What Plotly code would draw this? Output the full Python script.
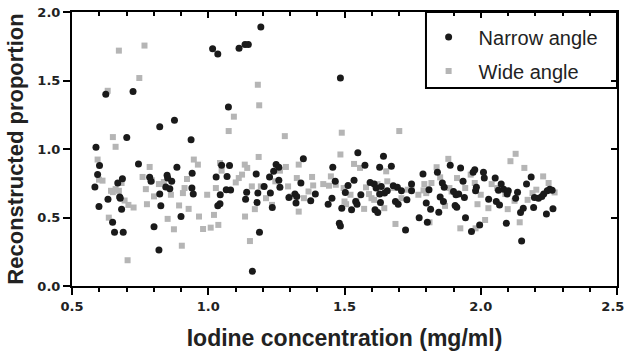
import plotly.graph_objects as go

# Narrow angle (black circles)
narrow_x = [0.584, 0.588, 0.594, 0.601, 0.599, 0.624, 0.632, 0.649, 0.656, 0.668, 0.675, 0.677, 0.682, 0.685, 0.688,
            0.701, 0.724, 0.744, 0.785, 0.790, 0.801, 0.819, 0.822, 0.822, 0.826, 0.844, 0.849, 0.851, 0.859, 0.866,
            0.876, 0.885, 0.900, 0.937, 0.941, 0.940, 0.945, 1.016, 1.035, 1.029, 1.035, 1.043, 1.044, 1.049, 1.069,
            1.074, 1.078, 1.066, 1.082, 1.113, 1.135, 1.147, 1.137, 1.141, 1.162, 1.176, 1.179, 1.182, 1.188, 1.193,
            1.205, 1.228, 1.235, 1.225, 1.240, 1.249, 1.259, 1.259, 1.263, 1.296, 1.318, 1.322, 1.325, 1.340, 1.349,
            1.376, 1.393, 1.440, 1.454, 1.457, 1.466, 1.485, 1.481, 1.485, 1.490, 1.503, 1.513, 1.526, 1.535, 1.541,
            1.546, 1.549, 1.560, 1.575, 1.594, 1.609, 1.616, 1.612, 1.622, 1.629, 1.629, 1.632, 1.635, 1.643, 1.647,
            1.657, 1.672, 1.679, 1.687, 1.694, 1.697, 1.709, 1.724, 1.729, 1.746, 1.746, 1.774, 1.788, 1.800, 1.804,
            1.810, 1.816, 1.841, 1.846, 1.851, 1.859, 1.863, 1.866, 1.888, 1.900, 1.906, 1.909, 1.912, 1.919, 1.926,
            1.935, 1.940, 1.944, 1.966, 1.972, 1.978, 1.981, 1.984, 1.996, 2.010, 2.013, 2.029, 2.053, 2.057, 2.065,
            2.069, 2.075, 2.084, 2.094, 2.097, 2.101, 2.128, 2.135, 2.146, 2.150, 2.156, 2.168, 2.185, 2.194, 2.197,
            2.212, 2.224, 2.231, 2.241, 2.244, 2.253, 2.262, 2.265]
narrow_y = [0.722, 1.013, 0.813, 0.879, 0.580, 1.400, 0.634, 0.465, 0.392, 0.752, 0.649, 0.641, 0.561, 0.783, 0.392,
            1.084, 1.420, 0.891, 0.793, 0.764, 0.433, 0.262, 1.163, 0.671, 0.585, 0.722, 0.808, 0.788, 0.710, 0.764,
            1.209, 0.867, 0.507, 1.067, 0.823, 0.715, 0.671, 1.731, 1.694, 0.796, 0.585, 0.600, 0.666, 0.881, 0.800,
            1.307, 0.879, 0.703, 0.700, 1.736, 1.763, 1.763, 0.634, 0.685, 0.108, 0.818, 0.610, 0.678, 0.392, 1.890,
            0.727, 0.678, 0.573, 0.796, 0.837, 0.886, 0.867, 0.771, 0.720, 0.646, 0.671, 0.605, 0.654, 0.752, 0.928,
            0.622, 0.671, 0.597, 0.641, 0.867, 0.764, 1.518, 0.458, 0.438, 0.568, 0.683, 0.734, 0.556, 0.771, 0.617,
            0.597, 0.972, 0.666, 0.881, 0.756, 0.744, 0.715, 0.556, 0.536, 0.867, 0.671, 0.610, 0.727, 0.947, 0.678,
            0.695, 0.874, 0.732, 0.617, 0.720, 0.597, 0.695, 0.409, 0.629, 0.744, 0.695, 0.499, 0.818, 0.605, 0.465,
            0.703, 0.561, 0.830, 0.539, 0.649, 0.752, 0.617, 0.720, 0.881, 0.690, 0.588, 0.666, 0.575, 0.671, 0.862,
            0.764, 0.646, 0.499, 0.397, 0.830, 0.849, 0.695, 0.720, 0.446, 0.830, 0.788, 0.634, 0.788, 0.617, 0.698,
            0.592, 0.744, 0.707, 0.458, 0.671, 0.695, 0.641, 0.685, 0.536, 0.328, 0.568, 0.744, 0.796, 0.573, 0.646,
            0.641, 0.654, 0.671, 0.526, 0.695, 0.707, 0.698, 0.563]

# Wide angle (grey squares)
wide_x = [0.594, 0.599, 0.612, 0.631, 0.635, 0.643, 0.650, 0.660, 0.650, 0.660, 0.672, 0.672, 0.682, 0.693, 0.704,
          0.707, 0.726, 0.747, 0.759, 0.766, 0.771, 0.775, 0.785, 0.793, 0.801, 0.819, 0.837, 0.851, 0.863, 0.874,
          0.893, 0.903, 0.907, 0.913, 0.922, 0.928, 0.947, 0.962, 0.966, 0.981, 0.996, 1.009, 1.021, 1.028, 1.037,
          1.043, 1.049, 1.075, 1.094, 1.101, 1.112, 1.124, 1.134, 1.135, 1.143, 1.153, 1.160, 1.171, 1.182, 1.187,
          1.185, 1.193, 1.212, 1.234, 1.246, 1.263, 1.281, 1.285, 1.293, 1.303, 1.325, 1.332, 1.332, 1.351, 1.368,
          1.381, 1.385, 1.422, 1.443, 1.450, 1.468, 1.485, 1.490, 1.497, 1.500, 1.506, 1.522, 1.535, 1.544, 1.557,
          1.572, 1.579, 1.590, 1.599, 1.609, 1.621, 1.646, 1.653, 1.657, 1.682, 1.687, 1.701, 1.709, 1.732, 1.746,
          1.771, 1.790, 1.793, 1.800, 1.812, 1.819, 1.838, 1.851, 1.869, 1.881, 1.885, 1.893, 1.913, 1.925, 1.943,
          1.963, 1.978, 1.981, 1.988, 2.000, 2.016, 2.028, 2.040, 2.060, 2.090, 2.099, 2.109, 2.124, 2.128, 2.143,
          2.160, 2.172, 2.190, 2.204, 2.229, 2.249, 2.271]
wide_y = [0.923, 0.776, 0.769, 1.425, 0.499, 0.695, 1.087, 1.016, 0.685, 0.707, 1.718, 0.695, 0.752, 0.624, 0.188,
          0.592, 0.573, 1.518, 0.796, 1.755, 0.707, 0.597, 0.869, 0.771, 0.654, 0.744, 0.759, 0.490, 0.666, 0.414,
          0.588, 0.294, 0.678, 0.715, 0.781, 0.563, 0.923, 0.886, 0.507, 0.416, 0.666, 0.426, 0.519, 0.715, 0.446,
          0.898, 0.842, 1.131, 1.236, 0.756, 0.788, 0.813, 0.886, 0.507, 0.862, 0.328, 0.727, 0.561, 1.469, 1.319,
          0.942, 0.727, 0.641, 0.592, 0.764, 0.842, 1.094, 0.869, 0.727, 0.654, 0.788, 0.886, 0.543, 0.641, 0.690,
          0.796, 0.734, 0.744, 0.732, 0.800, 0.739, 0.960, 1.119, 0.715, 0.617, 0.597, 0.666, 0.891, 0.622, 0.862,
          0.563, 0.720, 0.671, 0.641, 0.629, 0.744, 0.568, 0.837, 0.764, 0.715, 0.453, 1.131, 0.641, 0.703, 0.715,
          0.666, 0.698, 0.744, 0.678, 0.465, 0.752, 0.867, 0.793, 0.585, 0.928, 0.715, 0.690, 0.788, 0.421, 0.715,
          0.813, 0.752, 0.421, 0.597, 0.666, 0.482, 0.568, 0.744, 0.715, 0.671, 0.561, 0.911, 0.622, 0.965, 0.465,
          0.862, 0.629, 0.678, 0.703, 0.800, 0.752, 0.683]

x_ticks = [0.5, 1.0, 1.5, 2.0, 2.5]
y_ticks = [0.0, 0.5, 1.0, 1.5, 2.0]
x_title = "Iodine concentration (mg/ml)"
y_title = "Reconstructed proportion"

FONT = "Liberation Sans, Arial, Helvetica, sans-serif"
TICKFONT = "DejaVu Sans, Liberation Sans, Arial, sans-serif"

fig = go.Figure()
fig.add_trace(go.Scatter(x=wide_x, y=wide_y, mode="markers", name="Wide angle",
                         legendgroup="b", legendrank=2,
                         marker=dict(symbol="square", size=6, color="#b5b5b5", line=dict(width=0))))
fig.add_trace(go.Scatter(x=narrow_x, y=narrow_y, mode="markers", name="Narrow angle",
                         legendgroup="a", legendrank=1,
                         marker=dict(symbol="circle", size=7, color="#1a1a1a", line=dict(width=0))))
# helper trace to bind mirrored axes (top / right)
fig.add_trace(go.Scatter(x=[None], y=[None], xaxis="x2", yaxis="y2", showlegend=False, hoverinfo="skip"))

tickfont = dict(family=TICKFONT, size=13, color="#222")
common = dict(showgrid=False, zeroline=False, showline=True, linecolor="black", linewidth=2,
              tickcolor="black", tickwidth=2, automargin=False)

# last x label nudged left (trailing spaces) so it stays inside the page
x_ticktext = [f"<b>{v:.1f}</b>" for v in x_ticks]
x_ticktext[-1] = x_ticktext[-1] + "&nbsp;&nbsp;"

fig.update_layout(
    width=627, height=353,
    margin=dict(l=72, r=10, t=12, b=67),
    paper_bgcolor="white", plot_bgcolor="white",
    showlegend=True,
    legend=dict(x=0.636, xanchor="left", y=0.98, yanchor="top",
                bgcolor="rgba(0,0,0,0)", borderwidth=0,
                font=dict(family=FONT, size=20, color="#222"),
                tracegroupgap=5, itemwidth=50),
    shapes=[dict(type="rect", xref="paper", yref="paper", x0=0.6495, x1=1.0, y0=0.7226, y1=1.0,
                 line=dict(color="black", width=2), fillcolor="rgba(0,0,0,0)", layer="above")],
    xaxis=dict(range=[0.5, 2.5], tickvals=x_ticks, ticktext=x_ticktext,
               ticks="outside", ticklen=7, tickfont=tickfont, ticklabeloverflow="allow",
               minor=dict(dtick=0.1, tick0=0.5, ticks="outside", ticklen=4, tickwidth=2, tickcolor="black"),
               title=dict(text=f"<b>{x_title}</b>", font=dict(family=FONT, size=23, color="#222"), standoff=17),
               **common),
    yaxis=dict(range=[0, 2.0], tickvals=y_ticks, ticktext=[f"<b>{v:.1f}</b>" for v in y_ticks],
               ticks="outside", ticklen=7, tickfont=tickfont, ticklabeloverflow="allow",
               title=dict(text=f"<b>{y_title}</b>", font=dict(family=FONT, size=22, color="#222"), standoff=8),
               **common),
    xaxis2=dict(range=[0.5, 2.5], overlaying="x", side="top", anchor="y2", tickvals=x_ticks,
                ticks="inside", ticklen=6, showticklabels=False,
                minor=dict(dtick=0.1, tick0=0.5, ticks="inside", ticklen=4, tickwidth=2, tickcolor="black"),
                **common),
    yaxis2=dict(range=[0, 2.0], overlaying="y", side="right", anchor="x2", tickvals=y_ticks,
                ticks="inside", ticklen=6, showticklabels=False, **common),
)

fig.write_html("out.html")
